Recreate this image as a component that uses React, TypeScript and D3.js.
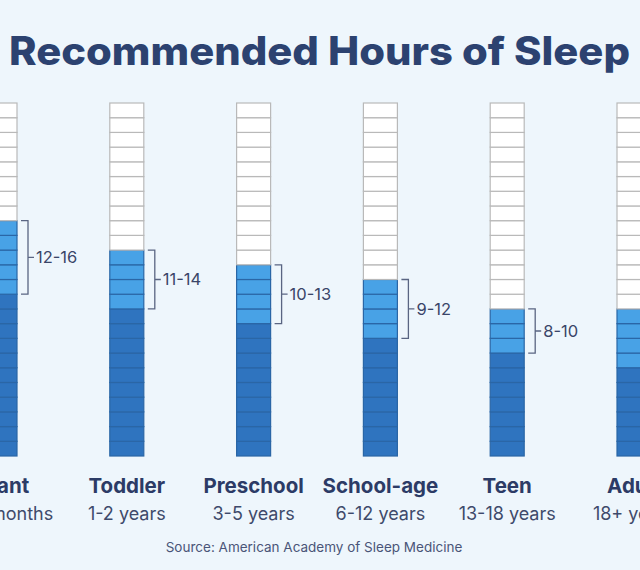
import React, { useEffect, useRef } from 'react';
import * as d3 from 'd3';

const groups = ['Infant', 'Toddler', 'Preschool', 'School-age', 'Teen', 'Adult'];
const ages = ['4-12 months', '1-2 years', '3-5 years', '6-12 years', '13-18 years', '18+ years'];
const minHours = [12, 11, 10, 9, 8, 7];
const maxHours = [16, 14, 13, 12, 10, 10];
const rangeLabels = ['12-16', '11-14', '10-13', '9-12', '8-10', '7-9'];
const totalHours = 24;

const width = 640;
const height = 570;

export default function App() {
  const ref = useRef<SVGSVGElement>(null);

  useEffect(() => {
    const svg = d3.select(ref.current);
    svg.selectAll('*').remove();

    svg.append('rect').attr('width', width).attr('height', height).attr('fill', '#eef6fc');

    svg
      .append('text')
      .attr('x', 9)
      .attr('y', 65)
      .attr('textLength', 621)
      .attr('lengthAdjust', 'spacingAndGlyphs')
      .attr('font-family', 'Inter, sans-serif')
      .attr('font-weight', 800)
      .attr('font-size', 39)
      .attr('fill', '#2c4270')
      .text('Recommended Hours of Sleep');

    const x = d3.scalePoint<string>().domain(groups).range([0, 634]);
    const y = d3.scaleLinear().domain([0, totalHours]).range([456, 103]);
    const colW = 34;

    const data = groups.map((g, i) => ({
      group: g,
      age: ages[i],
      min: minHours[i],
      max: maxHours[i],
      label: rangeLabels[i],
    }));

    const col = svg
      .selectAll('.col')
      .data(data)
      .enter()
      .append('g')
      .attr('class', 'col')
      .attr('transform', d => `translate(${x(d.group)},0)`);

    // one cell per hour
    col.each(function (d) {
      const cells = d3.range(totalHours).map(h => ({
        h,
        fill: h < d.min - 1 ? '#2f74bf' : h < d.max ? '#48a2e6' : '#ffffff',
      }));
      d3.select(this)
        .selectAll('rect')
        .data(cells)
        .enter()
        .append('rect')
        .attr('x', -colW / 2)
        .attr('y', c => y(c.h + 1))
        .attr('width', colW)
        .attr('height', c => y(c.h) - y(c.h + 1))
        .attr('fill', c => c.fill)
        .attr('stroke', c => (c.fill === '#ffffff' ? '#b9b9b9' : '#2a66a6'))
        .attr('stroke-width', 1.2);
    });

    // bracket around the recommended range
    const bx = colW / 2 + 4;
    col
      .append('path')
      .attr('d', d => {
        const t = y(d.max);
        const b = y(d.min - 1);
        return `M${bx},${t}H${bx + 7}V${b}H${bx}M${bx + 7},${(t + b) / 2}H${bx + 13}`;
      })
      .attr('fill', 'none')
      .attr('stroke', '#5a6582')
      .attr('stroke-width', 1.3);

    col
      .append('text')
      .attr('x', bx + 15)
      .attr('y', d => (y(d.max) + y(d.min - 1)) / 2)
      .attr('dy', '0.35em')
      .attr('font-family', 'Inter, sans-serif')
      .attr('font-size', 16.5)
      .attr('fill', '#3a4568')
      .text(d => d.label);

    col
      .append('text')
      .attr('y', 493)
      .attr('text-anchor', 'middle')
      .attr('font-family', 'Inter, sans-serif')
      .attr('font-weight', 700)
      .attr('font-size', 20.5)
      .attr('fill', '#2c3b66')
      .text(d => d.group);

    col
      .append('text')
      .attr('y', 520)
      .attr('text-anchor', 'middle')
      .attr('font-family', 'Inter, sans-serif')
      .attr('font-size', 18)
      .attr('fill', '#3e4a6b')
      .text(d => d.age);

    svg
      .append('text')
      .attr('x', 314)
      .attr('y', 552)
      .attr('text-anchor', 'middle')
      .attr('font-family', 'Inter, sans-serif')
      .attr('font-size', 13.5)
      .attr('fill', '#4a5578')
      .text('Source: American Academy of Sleep Medicine');
  }, []);

  return (
    <svg
      ref={ref}
      width={width}
      height={height}
      style={{ position: 'absolute', left: 0, top: 0 }}
    />
  );
}
